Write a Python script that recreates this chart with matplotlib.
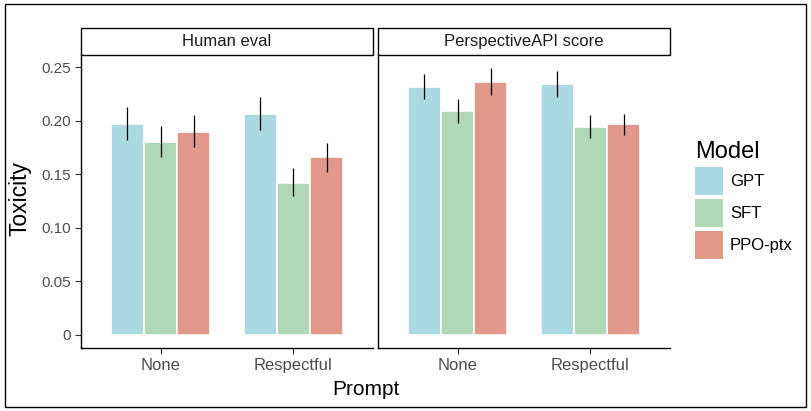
import matplotlib
matplotlib.use('Agg')
import matplotlib.pyplot as plt
from matplotlib.patches import Rectangle
import numpy as np

plt.rcParams['font.family'] = ['Liberation Sans', 'DejaVu Sans']

PANELS  = ['Human eval', 'PerspectiveAPI score']
PROMPTS = ['None', 'Respectful']
MODELS  = ['GPT', 'SFT', 'PPO-ptx']
COLORS  = ['#aad9e1', '#b0d7b6', '#df988a']

# values[panel][model] = (None, Respectful)
VALUES = {
    'Human eval': {
        'GPT':     [0.197, 0.206],
        'SFT':     [0.180, 0.142],
        'PPO-ptx': [0.1895, 0.166],
    },
    'PerspectiveAPI score': {
        'GPT':     [0.2315, 0.2347],
        'SFT':     [0.2087, 0.194],
        'PPO-ptx': [0.2365, 0.197],
    },
}
LOWER = {
    'Human eval': {
        'GPT':     [0.182, 0.191],
        'SFT':     [0.166, 0.130],
        'PPO-ptx': [0.175, 0.1525],
    },
    'PerspectiveAPI score': {
        'GPT':     [0.220, 0.2225],
        'SFT':     [0.1977, 0.184],
        'PPO-ptx': [0.2243, 0.187],
    },
}
UPPER = {
    'Human eval': {
        'GPT':     [0.213, 0.222],
        'SFT':     [0.195, 0.156],
        'PPO-ptx': [0.2055, 0.179],
    },
    'PerspectiveAPI score': {
        'GPT':     [0.244, 0.247],
        'SFT':     [0.220, 0.205],
        'PPO-ptx': [0.249, 0.2065],
    },
}

YTICKS  = [0, 0.05, 0.10, 0.15, 0.20, 0.25]
YLABELS = ['0', '0.05', '0.10', '0.15', '0.20', '0.25']

W, H = 812, 411
fig = plt.figure(figsize=(W / 100, H / 100), dpi=100)

BAR_W = 0.25
GRAY = '#4d4d4d'
panel_px = [(81, 373), (378, 670)]
top_px, bot_px = 55, 348
strip_px = 27

for i, (panel, (x0, x1)) in enumerate(zip(PANELS, panel_px)):
    ax = fig.add_axes([x0 / W, 1 - bot_px / H, (x1 - x0) / W, (bot_px - top_px) / H])
    xs = np.arange(1, len(PROMPTS) + 1)
    for j, (model, color) in enumerate(zip(MODELS, COLORS)):
        pos = xs + (j - 1) * BAR_W
        ax.bar(pos, VALUES[panel][model], width=BAR_W, color=color,
               edgecolor='white', linewidth=1.2)
        ax.vlines(pos, LOWER[panel][model], UPPER[panel][model],
                  color='black', linewidth=0.9)

    ax.set_xlim(0.4, 2.6)
    ax.set_ylim(-0.0125, 0.2615)
    ax.set_xticks(xs)
    ax.set_xticklabels(PROMPTS, fontsize=12, color=GRAY)
    ax.set_yticks(YTICKS)
    if i == 0:
        ax.set_yticklabels(YLABELS, fontsize=11, color=GRAY)
    else:
        ax.tick_params(axis='y', left=False, labelleft=False)
    ax.tick_params(axis='both', length=4, width=0.8, color='#333333', pad=3)
    for s in ['top', 'right']:
        ax.spines[s].set_visible(False)
    for s in ['left', 'bottom']:
        ax.spines[s].set_linewidth(1.0)

    # facet strip
    h = strip_px / (bot_px - top_px)
    ax.add_patch(Rectangle((0, 1), 1, h, transform=ax.transAxes, facecolor='white',
                           edgecolor='black', linewidth=1.0, clip_on=False))
    ax.text(0.5, 1 + h / 2, panel, transform=ax.transAxes, ha='center', va='center',
            fontsize=12, color='#1a1a1a')

fig.text(20 / W, 1 - 199 / H, 'Toxicity', rotation=90, ha='center', va='center', fontsize=16.5)
fig.text(366 / W, 1 - 389 / H, 'Prompt', ha='center', va='center', fontsize=15)

# legend
fig.text(695 / W, 1 - 152 / H, 'Model', ha='left', va='center', fontsize=17)
for k, (model, color) in enumerate(zip(MODELS, COLORS)):
    y_top = 167 + k * 32
    fig.patches.append(Rectangle((695 / W, 1 - (y_top + 28) / H), 28 / W, 28 / H,
                                 transform=fig.transFigure, facecolor=color, edgecolor='none'))
    fig.text(730 / W, 1 - (y_top + 14) / H, model, ha='left', va='center', fontsize=12)

# outer frame
fig.patches.append(Rectangle((5 / W, 4 / H), 801 / W, 403 / H, transform=fig.transFigure,
                             facecolor='none', edgecolor='black', linewidth=1.0))

fig.savefig('out.png', dpi=100)
